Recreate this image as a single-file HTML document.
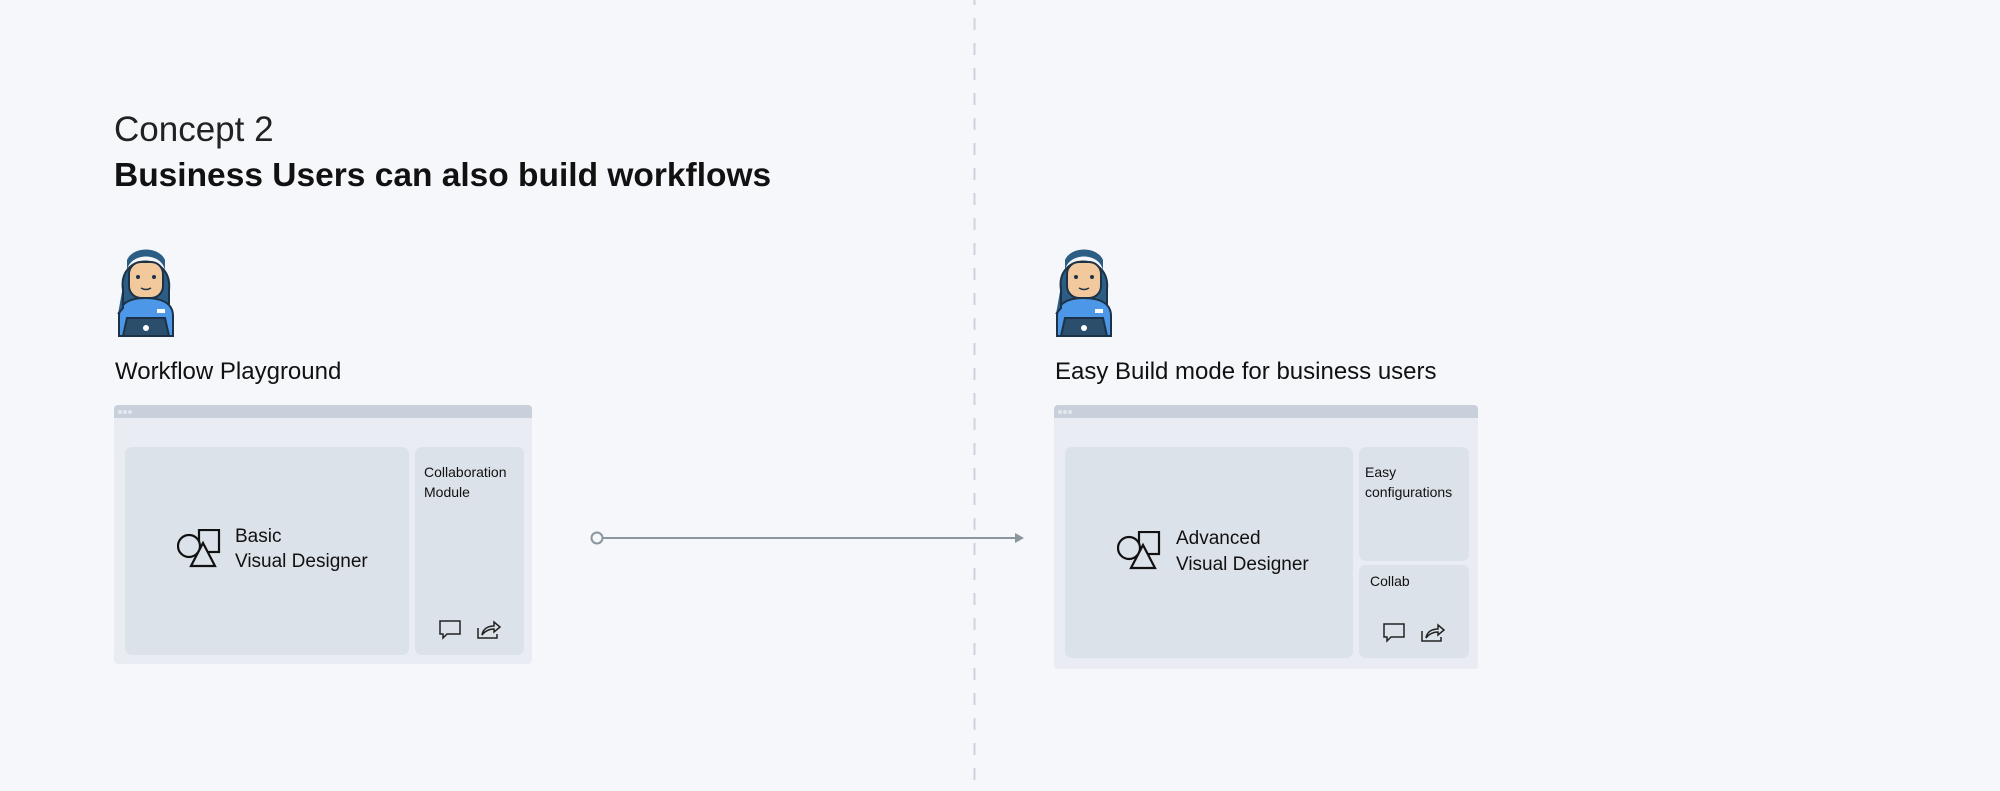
<!DOCTYPE html>
<html><head><meta charset="utf-8"><style>
*{margin:0;padding:0;box-sizing:border-box}
body{width:2000px;height:791px;background:#f6f7fb;position:relative;overflow:hidden;font-family:"Liberation Sans",sans-serif;color:#111}
.a{position:absolute;white-space:nowrap}
.frame{position:absolute;background:#e9ecf2;border-radius:4px;overflow:hidden}
.bar{position:absolute;left:0;top:0;right:0;height:13px;background:#c8d1db}
.dot{position:absolute;top:5px;width:4px;height:4px;border-radius:2px;background:#e4e9ef}
.p{position:absolute;background:#dce2e9;border-radius:7px}
</style></head><body>
<svg class="a" style="left:0;top:0" width="2000" height="791">
<line x1="974.5" y1="0" x2="974.5" y2="791" stroke="#cdd3db" stroke-width="2" stroke-dasharray="12 13" stroke-dashoffset="7"/>
<line x1="603" y1="538" x2="1016" y2="538" stroke="#8a979f" stroke-width="2"/>
<circle cx="597" cy="538" r="5.5" fill="#f6f7fb" stroke="#8a979f" stroke-width="2"/>
<polygon points="1024,538 1015,533 1015,543" fill="#8a979f"/>
<defs>
<g id="av">
<path d="M8,44 C2,6 58,6 54,44 L54,64 L8,64Z" fill="#2c5e85" stroke="#1d3246" stroke-width="2"/>
<path d="M4,90 L4,70 C4,58 14,52 30,52 C48,52 58,58 58,70 L58,90Z" fill="#4d97e8" stroke="#1d3246" stroke-width="2"/>
<rect x="14" y="16" width="34" height="36" rx="12" fill="#f2c99c" stroke="#1d3246" stroke-width="2"/>
<path d="M12,24 C16,6 46,6 50,24 L50,14 C44,0 18,0 12,14Z" fill="#2c5e85"/>
<circle cx="23" cy="31" r="2" fill="#1d3246"/><circle cx="39" cy="31" r="2" fill="#1d3246"/>
<path d="M26,42 Q31,45 36,42" stroke="#1d3246" stroke-width="1.5" fill="none"/>
<path d="M8,40 L8,62 L3,68" stroke="#1d3246" stroke-width="2" fill="#2c5e85"/>
<path d="M8,90 L12,72 L50,72 L54,90Z" fill="#2b4e6d" stroke="#1d3246" stroke-width="2"/>
<circle cx="31" cy="82" r="3" fill="#fff"/>
<rect x="42" y="63" width="8" height="4" fill="#fff"/>
</g>
<g id="shp" fill="none" stroke="#111" stroke-width="2.2">
<rect x="22" y="1" width="20" height="22"/>
<circle cx="12" cy="17" r="11" fill="#dce2e9"/>
<polygon points="26,14 14,37 38,37" fill="#dce2e9"/>
</g>
<g id="ic" fill="none" stroke="#222" stroke-width="1.5">
<path d="M1,1 H21 V14 H8 L4,18 V14 H1Z"/>
<path d="M39,8 V18 H58 V14"/>
<path d="M43,15 C44,8 50,6 55,6 V2 L61,7 L55,12 V9 C50,9 46,11 43,15Z"/>
</g>
</defs>
<use href="#av" x="115" y="246"/>
<use href="#av" x="1053" y="246"/>
</svg>
<div class="a" style="left:114px;top:110px;font-size:35px;line-height:40px;color:#222">Concept 2</div>
<div class="a" style="left:114px;top:157px;font-size:33.5px;line-height:38px;font-weight:bold">Business Users can also build workflows</div>
<div class="a" style="left:115px;top:358px;font-size:24px">Workflow Playground</div>
<div class="a" style="left:1055px;top:358px;font-size:24px">Easy Build mode for business users</div>

<div class="frame" style="left:114px;top:405px;width:418px;height:259px">
<div class="bar"><div class="dot" style="left:4px"></div><div class="dot" style="left:9px"></div><div class="dot" style="left:14px"></div></div>
<div class="p" style="left:11px;top:42px;width:284px;height:208px"></div>
<div class="p" style="left:301px;top:42px;width:109px;height:208px"></div>
<div class="a" style="left:310px;top:57px;font-size:14px;line-height:20px">Collaboration<br>Module</div>
<div class="a" style="left:121px;top:119px;font-size:19px;line-height:25px">Basic<br>Visual Designer</div>
</div>
<svg class="a" style="left:177px;top:529px" width="46" height="40"><use href="#shp"/></svg>
<svg class="a" style="left:439px;top:620px" width="64" height="22"><use href="#ic"/></svg>

<div class="frame" style="left:1054px;top:405px;width:424px;height:264px">
<div class="bar"><div class="dot" style="left:4px"></div><div class="dot" style="left:9px"></div><div class="dot" style="left:14px"></div></div>
<div class="p" style="left:11px;top:42px;width:288px;height:211px"></div>
<div class="p" style="left:305px;top:42px;width:110px;height:114px"></div>
<div class="p" style="left:305px;top:160px;width:110px;height:93px"></div>
<div class="a" style="left:311px;top:57px;font-size:14px;line-height:20px">Easy<br>configurations</div>
<div class="a" style="left:316px;top:168px;font-size:14px">Collab</div>
<div class="a" style="left:122px;top:121px;font-size:19px;line-height:26px">Advanced<br>Visual Designer</div>
</div>
<svg class="a" style="left:1117px;top:531px" width="46" height="40"><use href="#shp"/></svg>
<svg class="a" style="left:1383px;top:623px" width="64" height="22"><use href="#ic"/></svg>
</body></html>
